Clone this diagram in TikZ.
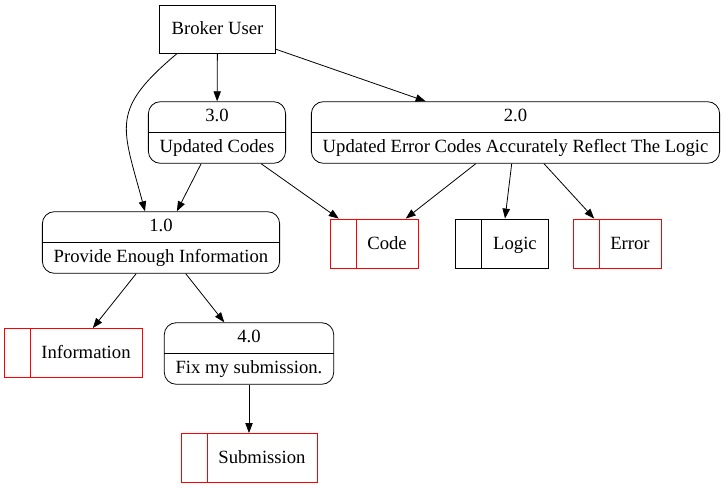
\documentclass[tikz,border=0pt]{standalone}
\usepackage{fontspec}
\setmainfont{Liberation Serif}
\newfontfamily\dfdfont{Liberation Serif}
\usetikzlibrary{shapes.multipart, arrows.meta}

\begin{document}
\begin{tikzpicture}[x=0.75pt, y=-0.75pt, font=\dfdfont\fontsize{14pt}{17pt}\selectfont, semithick,
    ext/.style={draw, inner xsep=9pt, minimum height=36pt, text height=12pt, text depth=3pt},
    proc/.style={draw, rectangle split, rectangle split parts=2, rounded corners=9pt,
                 inner xsep=8.5pt, inner ysep=2.75pt, align=center},
    store/.style={draw=#1, inner xsep=8.5pt, minimum height=36.75pt, text height=12pt, text depth=3pt,
                  path picture={\draw[#1] ([xshift=19.5pt]path picture bounding box.north west)
                                -- ([xshift=19.5pt]path picture bounding box.south west);}},
    flow/.style={-{Triangle[length=7.5pt,width=5.5pt]}}]
    \useasboundingbox (0,0) rectangle (726,488);
    % external entity
    \node[ext] (user) at (217.5,29) {Broker User};
    % processes
    \node[proc] (p3) at (217,132.5) {\strut 3.0\nodepart{two}\strut Updated Codes};
    \node[proc] (p2) at (515.5,132.5) {\strut 2.0\nodepart{two}\strut Updated Error Codes Accurately Reflect The Logic};
    \node[proc] (p1) at (161,242.5) {\strut 1.0\nodepart{two}\strut Provide Enough Information};
    \node[proc] (p4) at (249,353.5) {\strut 4.0\nodepart{two}\strut Fix my submission.};
    % data stores
    \node[store=red] (code) at (374,243.5) {\hspace*{19.5pt}Code};
    \node[store=black] (logic) at (502,243.5) {\hspace*{19.5pt}Logic};
    \node[store=red] (error) at (617,243.5) {\hspace*{19.5pt}Error};
    \node[store=red] (info) at (73,353) {\hspace*{19.5pt}Information};
    \node[store=red] (sub) at (249,458) {\hspace*{19.5pt}Submission};
    % flows
    \draw[flow] ([xshift=13.5pt]user.south west) to[out=-140, in=105, looseness=1.4] ([xshift=-12pt]p1.north);
    \draw[flow] (user) -- (p3);
    \draw[flow] (user) -- (p2);
    \draw[flow] (p3) -- (p1);
    \draw[flow] (p3) -- (code);
    \draw[flow] (p2) -- (code);
    \draw[flow] (p2) -- (logic);
    \draw[flow] (p2) -- (error);
    \draw[flow] (p1) -- (info);
    \draw[flow] (p1) -- (p4);
    \draw[flow] (p4) -- (sub);
\end{tikzpicture}
\end{document}
